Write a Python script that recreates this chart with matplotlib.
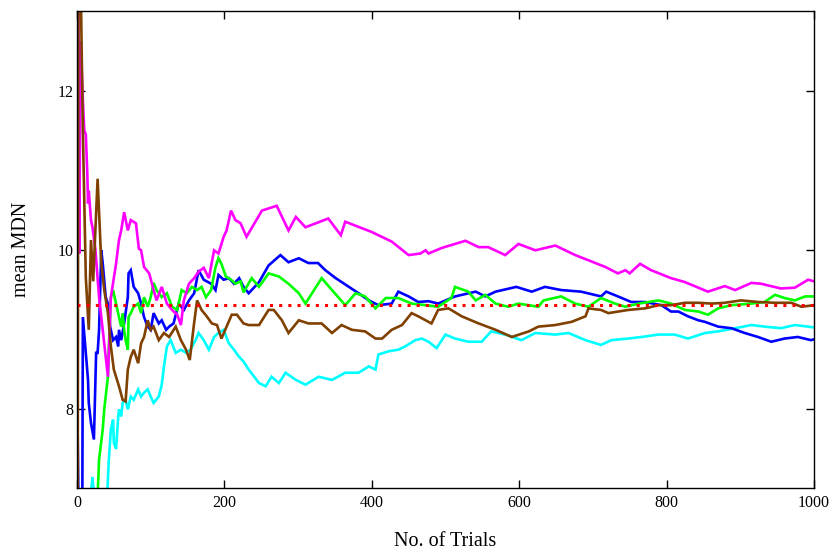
import matplotlib
matplotlib.use('Agg')
import matplotlib.pyplot as plt

# values: (trial, mean MDN)
blue = [(1, 7.65), (3, 6.0), (7, 6.0), (8, 9.15), (15, 8.36), (16, 8.07), (19, 7.82), (23, 7.61),
        (26, 8.70), (28, 8.70), (30, 8.99), (33, 9.99), (35, 9.82), (37, 9.61), (39, 9.40), (42, 9.32),
        (45, 9.03), (49, 8.86), (53, 8.90), (56, 8.78), (57, 8.99), (60, 8.86), (64, 9.07), (69, 9.40),
        (70, 9.70), (73, 9.74), (77, 9.53), (83, 9.45), (87, 9.32), (91, 9.15), (96, 9.03), (100, 8.99),
        (104, 9.20), (111, 9.07), (115, 9.11), (121, 8.99), (125, 9.03), (131, 9.07), (138, 9.32),
        (145, 9.24), (152, 9.36), (159, 9.45), (165, 9.74), (172, 9.62), (182, 9.57), (188, 9.49),
        (192, 9.68), (199, 9.62), (206, 9.64), (213, 9.57), (220, 9.64), (226, 9.53), (233, 9.45),
        (247, 9.59), (260, 9.80), (276, 9.93), (287, 9.84), (301, 9.89), (314, 9.83), (327, 9.83),
        (337, 9.74), (351, 9.64), (369, 9.53), (382, 9.45), (396, 9.36), (409, 9.30), (427, 9.32),
        (436, 9.47), (450, 9.41), (463, 9.34), (477, 9.35), (490, 9.32), (513, 9.41), (541, 9.47),
        (554, 9.41), (568, 9.47), (596, 9.53), (617, 9.47), (635, 9.53), (657, 9.49), (684, 9.47),
        (711, 9.41), (718, 9.47), (734, 9.41), (752, 9.34), (771, 9.34), (793, 9.30), (806, 9.22),
        (816, 9.22), (829, 9.16), (843, 9.11), (852, 9.09), (870, 9.03), (888, 9.01), (906, 8.95),
        (924, 8.90), (942, 8.84), (960, 8.88), (978, 8.90), (996, 8.86), (1000, 8.87)]

green = [(1, 5.0), (20, 6.3), (28, 6.9), (30, 7.36), (35, 7.74), (37, 7.99), (42, 8.40), (43, 8.70),
         (46, 9.40), (49, 9.49), (53, 9.32), (57, 9.15), (60, 9.03), (62, 9.20), (64, 8.99), (66, 8.86),
         (69, 8.74), (70, 9.15), (73, 9.20), (77, 9.28), (83, 9.32), (87, 9.20), (91, 9.40), (96, 9.28),
         (100, 9.40), (104, 9.58), (108, 9.49), (115, 9.40), (122, 9.45), (129, 9.28), (136, 9.24),
         (142, 9.49), (149, 9.45), (156, 9.53), (163, 9.49), (169, 9.53), (175, 9.40), (182, 9.49),
         (188, 9.78), (192, 9.89), (196, 9.82), (202, 9.66), (209, 9.62), (215, 9.57), (222, 9.60),
         (226, 9.46), (237, 9.64), (247, 9.53), (260, 9.70), (274, 9.66), (287, 9.57), (301, 9.45),
         (310, 9.32), (332, 9.64), (346, 9.49), (364, 9.30), (378, 9.45), (391, 9.41), (405, 9.26),
         (419, 9.39), (436, 9.39), (454, 9.32), (473, 9.30), (490, 9.28), (508, 9.39), (513, 9.53),
         (531, 9.47), (541, 9.36), (554, 9.43), (568, 9.32), (585, 9.28), (599, 9.32), (626, 9.28),
         (633, 9.36), (657, 9.41), (676, 9.32), (694, 9.28), (711, 9.39), (730, 9.32), (744, 9.28),
         (762, 9.32), (789, 9.36), (806, 9.32), (825, 9.24), (843, 9.22), (856, 9.18), (870, 9.26),
         (888, 9.30), (915, 9.32), (933, 9.34), (947, 9.43), (960, 9.39), (974, 9.36), (988, 9.41),
         (1000, 9.41)]

magenta = [(1, 16.0), (3, 9.95), (5, 12.62), (8, 11.87), (10, 11.49), (12, 11.45), (14, 10.96),
           (15, 10.58), (16, 10.74), (19, 10.37), (21, 10.28), (25, 10.0), (30, 9.40), (36, 8.9),
           (42, 8.40), (46, 9.40), (53, 9.82), (57, 10.12), (60, 10.24), (64, 10.47), (69, 10.24),
           (73, 10.37), (80, 10.33), (84, 10.01), (87, 9.99), (91, 9.78), (98, 9.70), (104, 9.49),
           (108, 9.36), (115, 9.53), (122, 9.32), (129, 9.24), (136, 9.18), (141, 9.05), (145, 9.36),
           (152, 9.57), (159, 9.64), (165, 9.72), (172, 9.77), (179, 9.64), (186, 9.99), (192, 9.95),
           (199, 10.16), (203, 10.24), (209, 10.49), (215, 10.37), (222, 10.33), (230, 10.16),
           (251, 10.49), (271, 10.55), (287, 10.24), (297, 10.41), (310, 10.28), (341, 10.39),
           (358, 10.18), (364, 10.35), (400, 10.22), (427, 10.10), (450, 9.93), (466, 9.95),
           (473, 9.99), (477, 9.95), (495, 10.02), (527, 10.11), (545, 10.03), (558, 10.03),
           (581, 9.93), (599, 10.07), (622, 9.99), (649, 10.05), (676, 9.93), (698, 9.85),
           (717, 9.78), (734, 9.70), (744, 9.74), (750, 9.70), (764, 9.82), (779, 9.74), (806, 9.64),
           (825, 9.59), (856, 9.47), (879, 9.54), (893, 9.49), (915, 9.58), (928, 9.57), (955, 9.51),
           (974, 9.52), (992, 9.62), (1000, 9.60)]

cyan = [(1, 5.0), (15, 6.5), (21, 7.14), (24, 6.8), (40, 6.7), (43, 7.32), (46, 7.74), (49, 7.86),
        (50, 7.57), (53, 7.49), (56, 7.90), (57, 7.99), (60, 7.90), (62, 8.07), (66, 8.11), (69, 7.99),
        (73, 8.15), (77, 8.11), (83, 8.24), (87, 8.15), (91, 8.20), (96, 8.24), (100, 8.15), (104, 8.07),
        (111, 8.15), (115, 8.3), (118, 8.53), (122, 8.78), (127, 8.86), (134, 8.70), (141, 8.74),
        (148, 8.70), (154, 8.74), (161, 8.86), (165, 8.95), (172, 8.86), (179, 8.74), (186, 8.90),
        (192, 8.95), (199, 8.99), (206, 8.82), (213, 8.74), (220, 8.65), (226, 8.59), (233, 8.49),
        (247, 8.32), (256, 8.28), (264, 8.40), (274, 8.32), (283, 8.45), (297, 8.36), (310, 8.30),
        (328, 8.40), (346, 8.36), (364, 8.45), (382, 8.45), (396, 8.53), (405, 8.49), (409, 8.68),
        (423, 8.72), (436, 8.74), (445, 8.78), (459, 8.86), (468, 8.88), (477, 8.84), (488, 8.76),
        (500, 8.93), (513, 8.88), (531, 8.84), (549, 8.84), (562, 8.97), (581, 8.93), (603, 8.86),
        (622, 8.95), (649, 8.93), (667, 8.95), (690, 8.86), (711, 8.80), (725, 8.86), (748, 8.88),
        (766, 8.90), (789, 8.93), (811, 8.93), (829, 8.88), (852, 8.95), (870, 8.97), (893, 9.01),
        (915, 9.05), (933, 9.03), (955, 9.01), (974, 9.05), (992, 9.03), (1000, 9.02)]

brown = [(1, 6.5), (2, 14.0), (4, 14.0), (8, 11.5), (12, 9.65), (16, 8.99), (19, 10.12), (22, 9.6),
         (28, 10.89), (33, 9.83), (37, 9.49), (42, 9.20), (46, 8.78), (50, 8.49), (57, 8.28), (62, 8.11),
         (66, 8.09), (69, 8.49), (73, 8.65), (77, 8.74), (83, 8.57), (87, 8.82), (91, 8.90), (96, 9.11),
         (100, 8.99), (104, 9.03), (111, 8.86), (118, 8.95), (125, 8.90), (134, 9.03), (141, 8.86),
         (148, 8.74), (153, 8.61), (159, 9.08), (163, 9.36), (169, 9.24), (176, 9.16), (183, 9.07),
         (190, 9.05), (196, 8.88), (203, 9.03), (210, 9.18), (217, 9.18), (226, 9.07), (233, 9.05),
         (247, 9.05), (260, 9.24), (267, 9.24), (278, 9.11), (287, 8.95), (301, 9.11), (314, 9.07),
         (332, 9.07), (346, 8.95), (359, 9.05), (373, 8.99), (391, 8.97), (405, 8.88), (414, 8.88),
         (427, 8.99), (441, 9.05), (454, 9.20), (463, 9.16), (481, 9.07), (490, 9.24), (504, 9.26),
         (522, 9.16), (545, 9.07), (568, 8.99), (590, 8.90), (613, 8.97), (626, 9.03), (649, 9.05),
         (671, 9.09), (690, 9.16), (694, 9.26), (711, 9.24), (721, 9.20), (748, 9.24), (771, 9.26),
         (789, 9.30), (806, 9.30), (825, 9.33), (843, 9.33), (861, 9.32), (879, 9.33), (901, 9.36),
         (924, 9.34), (947, 9.33), (969, 9.33), (983, 9.28), (1000, 9.30)]

target = 9.3
x_ticks = [0, 200, 400, 600, 800, 1000]
y_ticks = [8, 10, 12]

series = [(cyan, (0, 1, 1)), (blue, (0, 0, 1)), (green, (0, 1, 0)),
          (magenta, (1, 0, 1)), (brown, (0.5, 0.25, 0))]

plt.rcParams['font.family'] = ['Liberation Serif', 'DejaVu Serif']
fig = plt.figure(figsize=(8.33, 5.51), dpi=100)
ax = fig.add_axes([0.0924, 0.1143, 0.8848, 0.8657])

for data, color in series:
    xs = [p[0] for p in data]
    ys = [p[1] for p in data]
    ax.plot(xs, ys, color=color, linewidth=1.9, solid_joinstyle='miter')

ax.plot([0, 1000], [target, target], color='red', linewidth=2.2,
        linestyle=(0, (1, 2)), dash_capstyle='butt')

ax.set_xlim(0, 1000)
ax.set_ylim(7, 13)
ax.set_xticks(x_ticks)
ax.set_yticks(y_ticks)
ax.tick_params(direction='in', length=5.5, width=1, top=True, right=True,
               labelsize=11.5, colors='black')
ax.tick_params(axis='x', pad=5)
ax.tick_params(axis='y', pad=2.5)
for s in ax.spines.values():
    s.set_linewidth(1)
ax.set_xlabel('No. of Trials', fontsize=14.5, labelpad=15)
ax.set_ylabel('mean MDN', fontsize=14.5, labelpad=19)

fig.savefig('out.png', dpi=100)
